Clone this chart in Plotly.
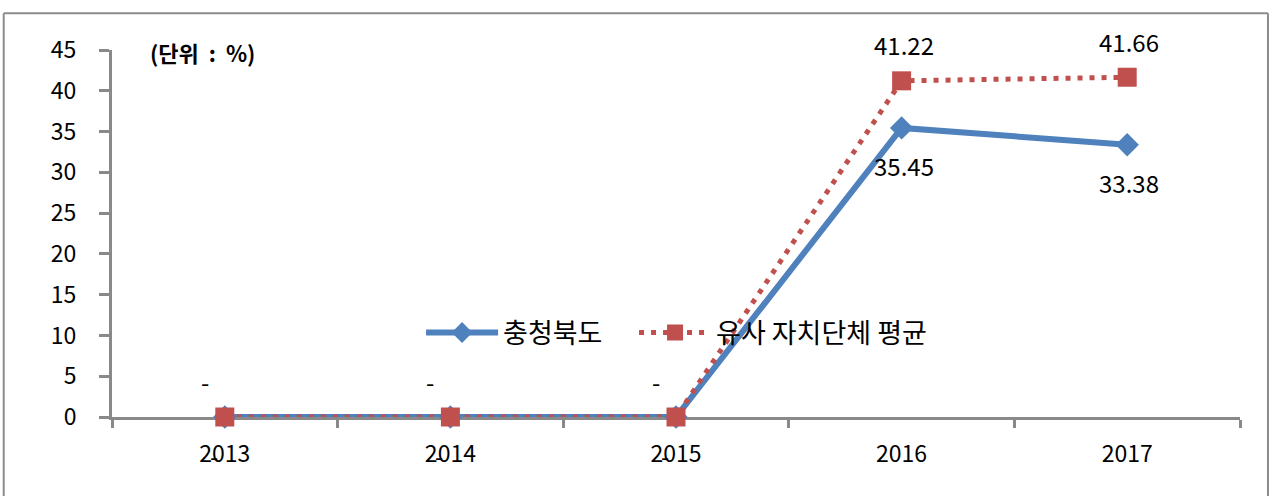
import plotly.graph_objects as go

years = ["2013", "2014", "2015", "2016", "2017"]
chungbuk = [0, 0, 0, 35.45, 33.38]
similar_avg = [0, 0, 0, 41.22, 41.66]
chungbuk_labels = ["-", "-", "-", "35.45", "33.38"]
similar_labels = ["-", "-", "-", "41.22", "41.66"]
name_chungbuk = "충청북도"
name_similar = "유사 자치단체 평균"
unit_text = "(단위&nbsp;&nbsp;:&nbsp;&nbsp;%)"
y_ticks = [0, 5, 10, 15, 20, 25, 30, 35, 40, 45]

BLUE = "#4F81BD"
RED = "#C0504D"
GRAY = "#898989"
FONT = "Noto Sans CJK KR"

fig = go.Figure()
fig.add_trace(go.Scatter(
    x=years, y=chungbuk, name=name_chungbuk, mode="lines+markers",
    line=dict(color=BLUE, width=6),
    marker=dict(symbol="diamond", size=18, color=BLUE),
    cliponaxis=False, legend="legend",
))
fig.add_trace(go.Scatter(
    x=years, y=similar_avg, name=name_similar, mode="lines+markers",
    line=dict(color=RED, width=5, dash="5px,7px"),
    marker=dict(symbol="square", size=19, color=RED),
    cliponaxis=False, legend="legend2",
))

annotations = []
for i, (yv, t) in enumerate(zip(chungbuk, chungbuk_labels)):
    annotations.append(dict(
        x=i, y=yv, text=t, showarrow=False, xref="x", yref="y",
        yshift=-38, xshift=(-11 if t == "-" else 2),
        font=dict(family=FONT, size=24, color="black"),
    ))
for i, (yv, t) in enumerate(zip(similar_avg, similar_labels)):
    annotations.append(dict(
        x=i, y=yv, text=t, showarrow=False, xref="x", yref="y",
        yshift=36, xshift=(-20 if t == "-" else 2),
        font=dict(family=FONT, size=24, color="black"),
    ))
annotations.append(dict(
    x=0.032, y=0.995, xref="paper", yref="paper", xanchor="left", yanchor="middle",
    text="<b>" + unit_text + "</b>", showarrow=False,
    font=dict(family=FONT, size=22, color="black"),
))

legend_common = dict(
    orientation="h", y=0.229, xanchor="left", yanchor="middle",
    bgcolor="rgba(0,0,0,0)", font=dict(family=FONT, size=27, color="black"),
    itemwidth=72,
)

# outer chart frame (paper coordinates relative to plot area)
fx0, fx1, fy0, fy1 = -0.096, 1.0248, -0.3, 1.10
frame_line = dict(color="#8C8C8C", width=2)
frame = [
    dict(type="line", xref="paper", yref="paper", x0=fx0, x1=fx1, y0=fy1, y1=fy1, line=frame_line),
    dict(type="line", xref="paper", yref="paper", x0=fx0, x1=fx0, y0=fy0, y1=fy1, line=frame_line),
    dict(type="line", xref="paper", yref="paper", x0=fx1, x1=fx1, y0=fy0, y1=fy1, line=frame_line),
]

fig.update_layout(
    width=1271, height=496,
    margin=dict(l=112, r=31, t=50, b=79),
    paper_bgcolor="white", plot_bgcolor="white",
    font=dict(family=FONT, size=23, color="black"),
    showlegend=True,
    legend=dict(x=0.274, **legend_common),
    legend2=dict(x=0.4628, **legend_common),
    annotations=annotations,
    shapes=frame,
)
fig.update_xaxes(
    type="category", range=[-0.5, 4.5],
    showline=True, linecolor=GRAY, linewidth=3,
    ticks="outside", ticklen=8, tickwidth=3, tickcolor=GRAY,
    tickson="boundaries", showgrid=False, zeroline=False,
    ticklabelstandoff=14, layer="below traces",
    tickfont=dict(family=FONT, size=23, color="black"),
)
fig.update_yaxes(
    range=[0, 45], tickvals=y_ticks,
    showline=True, linecolor=GRAY, linewidth=3,
    ticks="outside", ticklen=10, tickwidth=3, tickcolor=GRAY,
    showgrid=False, zeroline=False,
    ticklabelstandoff=18, layer="below traces",
    tickfont=dict(family=FONT, size=23, color="black"),
)

fig.write_html(
    "out.html",
    config={"displayModeBar": False},
    post_script="document.body.style.margin='0';document.body.style.overflow='hidden';",
)
